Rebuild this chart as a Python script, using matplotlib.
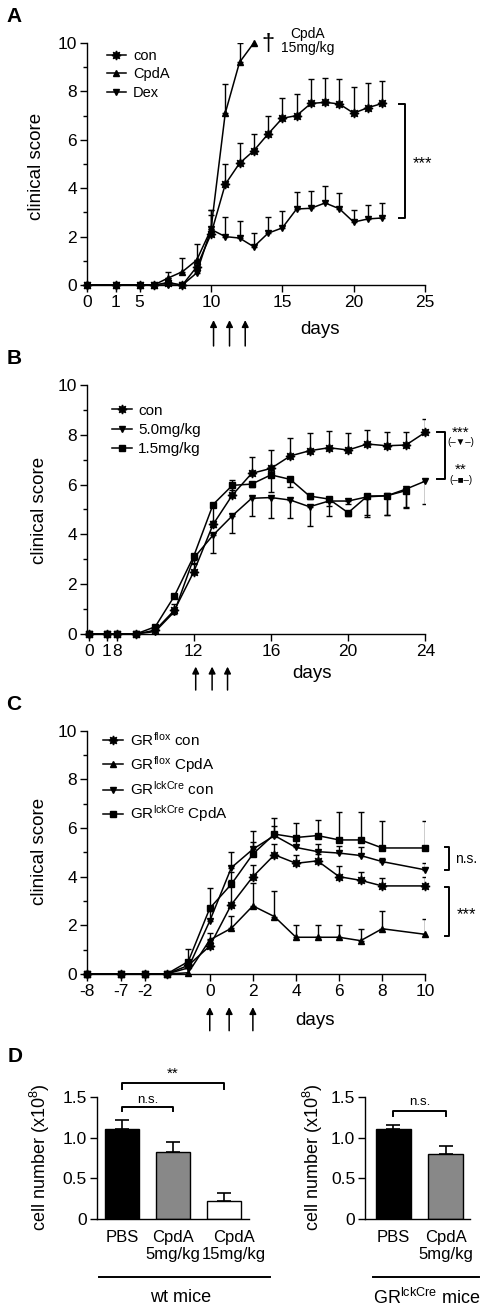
import numpy as np
import matplotlib
matplotlib.use('Agg')
import matplotlib.pyplot as plt
from matplotlib import transforms
from matplotlib.lines import Line2D
from matplotlib.ticker import NullLocator

plt.rcParams['font.family'] = ['Liberation Sans', 'DejaVu Sans']
plt.rcParams['mathtext.fontset'] = 'custom'
plt.rcParams['mathtext.rm'] = 'Liberation Sans'
plt.rcParams['mathtext.it'] = 'Liberation Sans:italic'
plt.rcParams['mathtext.bf'] = 'Liberation Sans:bold'

# ---------------- Panel A data ----------------
a_days = [0, 1, 5, 6, 7, 8, 9, 10, 11, 12, 13, 14, 15, 16, 17, 18, 19, 20, 21, 22]
a_con = [0, 0, 0, 0, 0.1, 0, 0.75, 2.1, 4.16, 5.03, 5.55, 6.24, 6.89, 7.0, 7.5, 7.55, 7.48, 7.1, 7.33, 7.5]
a_con_err = [0, 0, 0, 0, 0.2, 0, 0.3, 1.0, 0.84, 0.82, 0.69, 0.74, 0.85, 0.9, 1.0, 1.02, 1.02, 1.1, 1.0, 0.93]
a_cpda_days = [0, 1, 5, 6, 7, 8, 9, 10, 11, 12, 13]
a_cpda = [0, 0, 0, 0, 0.29, 0.55, 1.03, 2.3, 7.1, 9.2, 10.0]
a_cpda_err = [0, 0, 0, 0, 0.26, 0.55, 0.67, 0.8, 1.2, 0.8, 0]
a_dex = [0, 0, 0, 0, 0, 0, 0.5, 2.3, 2.0, 1.94, 1.58, 2.14, 2.36, 3.14, 3.17, 3.39, 3.15, 2.6, 2.73, 2.77]
a_dex_err = [0, 0, 0, 0, 0, 0, 0.2, 0.6, 0.8, 0.71, 0.58, 0.68, 0.71, 0.7, 0.71, 0.71, 0.66, 0.5, 0.59, 0.61]
a_xticks = [0, 1, 5, 10, 15, 20, 25]
a_arrows = [10.18, 11.3, 12.4]

# ---------------- Panel B data ----------------
b_days = [0, 1, 8, 9, 10, 11, 12, 13, 14, 15, 16, 17, 18, 19, 20, 21, 22, 23, 24]
b_con = [0, 0, 0, 0, 0.15, 0.96, 2.5, 4.4, 5.58, 6.45, 6.65, 7.15, 7.36, 7.48, 7.39, 7.63, 7.56, 7.59, 8.1]
b_con_err = [0, 0, 0, 0, 0.05, 0.25, 0.3, 0.15, 0.6, 0.67, 0.74, 0.71, 0.73, 0.67, 0.67, 0.56, 0.57, 0.54, 0.53]
b_50 = [0, 0, 0, 0, 0.1, 0.9, 3.05, 3.97, 4.75, 5.45, 5.48, 5.38, 5.11, 5.34, 5.34, 5.51, 5.55, 5.82, 6.14]
b_50_err = [0, 0, 0, 0, 0, 0.1, 0.2, 0.71, 0.7, 0.71, 0.84, 0.72, 0.76, 0.2, 0.1, 0.73, 0.76, 0.75, 0.93]
b_15_days = [0, 1, 8, 9, 10, 11, 12, 13, 14, 15, 16, 17, 18, 19, 20, 21, 22, 23]
b_15 = [0, 0, 0, 0, 0.29, 1.53, 3.13, 5.2, 5.97, 6.02, 6.39, 6.21, 5.54, 5.42, 4.87, 5.54, 5.55, 5.76]
b_15_err = [0, 0, 0, 0, 0, 0.1, 0.15, 0.9, 0.2, 0.1, 0.68, 0.32, 0.1, 0.7, 0.15, 0.83, 0.76, 0.65]
b_xticks = [0, 1, 8, 12, 16, 20, 24]
b_arrows = [12.1, 12.95, 13.75]

# ---------------- Panel C data ----------------
c_days = [-8, -7, -3, -2, -1, 0, 1, 2, 3, 4, 5, 6, 7, 8, 10]
c_flox_con = [0, 0, 0, 0, 0.35, 1.15, 2.85, 4.0, 4.9, 4.55, 4.65, 4.0, 3.85, 3.62, 3.62]
c_flox_con_err = [0, 0, 0, 0, 0.1, 0.3, 1.0, 0.5, 0.45, 0.35, 0.3, 0.42, 0.34, 0.31, 0.37]
c_flox_cpda = [0, 0, 0, 0, 0.05, 1.4, 1.88, 2.8, 2.36, 1.51, 1.51, 1.51, 1.37, 1.86, 1.63]
c_flox_cpda_err = [0, 0, 0, 0, 0, 0.3, 0.5, 0.96, 1.06, 0.51, 0.51, 0.51, 0.49, 0.72, 0.62]
c_lck_con = [0, 0, 0, 0, 0.25, 2.18, 4.37, 5.13, 5.69, 5.2, 5.03, 4.97, 4.87, 4.62, 4.28]
c_lck_con_err = [0, 0, 0, 0, 0.1, 0.4, 0.63, 0.73, 0.4, 0.39, 0.3, 0.3, 0.37, 0.15, 0.3]
c_lck_cpda = [0, 0, 0, 0, 0.51, 2.7, 3.69, 4.93, 5.75, 5.61, 5.69, 5.51, 5.51, 5.18, 5.18]
c_lck_cpda_err = [0, 0, 0, 0, 0.51, 0.85, 0.5, 0.5, 0.68, 0.59, 0.65, 1.13, 1.16, 1.12, 1.12]
c_xticks = [-8, -7, -3, 0, 2, 4, 6, 8, 10]
c_xticklabels = ['-8', '-7', '-2', '0', '2', '4', '6', '8', '10']
c_arrows = [0, 0.9, 2]

# ---------------- Panel D data ----------------
d_wt_labels = ['PBS', 'CpdA\n5mg/kg', 'CpdA\n15mg/kg']
d_wt_vals = [1.10, 0.82, 0.23]
d_wt_err = [0.11, 0.13, 0.09]
d_wt_colors = ['#000000', '#888888', '#ffffff']
d_lck_labels = ['PBS', 'CpdA\n5mg/kg']
d_lck_vals = [1.11, 0.80]
d_lck_err = [0.04, 0.10]
d_lck_colors = ['#000000', '#888888']

W, H = 494, 1312
fig = plt.figure(figsize=(W / 100, H / 100), dpi=100)


def axrect(l, t, r, b):
    return [l / W, 1 - b / H, (r - l) / W, (b - t) / H]


def fpx(x, y):
    return x / W, 1 - y / H


def piecewise(days_k, units_k):
    d = np.r_[days_k[0] - 1000, days_k, days_k[-1] + 1000]
    u = np.r_[units_k[0] - 1000, units_k, units_k[-1] + 1000]
    return (lambda x: np.interp(x, d, u)), (lambda v: np.interp(v, u, d))


def style_score(ax, xlim, xticks, xticklabels):
    ax.set_xlim(xlim)
    ax.set_ylim(0, 10)
    ax.set_yticks(range(0, 11, 2))
    ax.set_yticks(range(1, 10, 2), minor=True)
    ax.set_xticks(xticks)
    ax.set_xticklabels(xticklabels)
    ax.xaxis.set_minor_locator(NullLocator())
    for s in ['top', 'right']:
        ax.spines[s].set_visible(False)
    for s in ['left', 'bottom']:
        ax.spines[s].set_linewidth(1.0)
    ax.tick_params(which='major', length=5, width=1, labelsize=12.5, pad=2)
    ax.tick_params(which='minor', length=3, width=1)
    ax.tick_params(axis='x', which='minor', length=0)


def series(ax, x, y, err, marker, label, direction='up', ms=5):
    x = np.asarray(x, float)
    y = np.asarray(y, float)
    err = np.asarray(err, float)
    ax.plot(x, y, '-', color='k', lw=1.1, marker=marker, ms=ms, mfc='k', mec='k',
            label=label, clip_on=False, zorder=3)
    m = err > 0
    z = np.zeros(m.sum())
    yerr = [z, err[m]] if direction == 'up' else [err[m], z]
    ax.errorbar(x[m], y[m], yerr=yerr, fmt='none', ecolor='k', elinewidth=1,
                capsize=2.5, capthick=1, zorder=2)


def arrows(ax, xs, y_head, y_tail):
    tr = transforms.blended_transform_factory(ax.transData, ax.transAxes)
    for xv in xs:
        ax.annotate('', xy=(xv, y_head), xytext=(xv, y_tail), xycoords=tr, textcoords=tr,
                    arrowprops=dict(arrowstyle='-|>', color='k', lw=1.1, mutation_scale=10,
                                    shrinkA=0, shrinkB=0), annotation_clip=False)


def vbracket(ax, x0, x1, y0, y1):
    # vertical bracket opening to the left
    ax.plot([x0, x1, x1, x0], [y1, y1, y0, y0], color='k', lw=1.4, clip_on=False)


def hbracket(ax, x0, x1, ylow, ytop):
    # horizontal bracket opening downward
    ax.plot([x0, x0, x1, x1], [ylow, ytop, ytop, ylow], color='k', lw=1.4, clip_on=False)


star = (8, 1, 0)

# ================= Panel A =================
axA = fig.add_axes(axrect(86.7, 43, 425, 285))
axA.set_xscale('function', functions=piecewise([0, 1, 5, 25], [1.29, 3.32, 5, 25]))
series(axA, a_days, a_con, a_con_err, star, 'con', ms=6.5)
series(axA, a_cpda_days, a_cpda, a_cpda_err, '^', 'CpdA', ms=5)
series(axA, a_days, a_dex, a_dex_err, 'v', 'Dex', ms=5)
style_score(axA, (0, 25), a_xticks, [str(t) for t in a_xticks])
axA.legend(loc='upper left', bbox_to_anchor=(0.06, 0.975), frameon=False, fontsize=10.5,
           handlelength=1.3, handletextpad=0.5, labelspacing=0.3, borderpad=0, borderaxespad=0)
vbracket(axA, 23.2, 23.6, 2.76, 7.48)
axA.text(24.8, 5.0, '***', fontsize=12, ha='center', va='center')
axA.text(14.0, 9.95, '\u2020', fontsize=17, ha='center', va='center')
axA.text(16.8, 10.1, 'CpdA\n15mg/kg', fontsize=10, ha='center', va='center', linespacing=1.0)
arrows(axA, a_arrows, -0.145, -0.252)
axA.text(0.69, -0.182, 'days', transform=axA.transAxes, fontsize=13.5, ha='center', va='center')
axA.text(-0.147, 0.49, 'clinical score', transform=axA.transAxes, fontsize=13.5,
         rotation=90, ha='center', va='center')

# ================= Panel B =================
axB = fig.add_axes(axrect(86.7, 385, 425.3, 634))
axB.set_xscale('function', functions=piecewise([0, 1, 8, 24], [6.58, 7.5, 8, 24]))
series(axB, b_days, b_con, b_con_err, star, 'con', ms=6.5)
series(axB, b_days, b_50, b_50_err, 'v', '5.0mg/kg', direction='down', ms=5)
series(axB, b_15_days, b_15, b_15_err, 's', '1.5mg/kg', direction='down', ms=5)
style_score(axB, (-0.13, 24), b_xticks, [str(t) for t in b_xticks])
axB.legend(loc='upper left', bbox_to_anchor=(0.075, 0.925), frameon=False, fontsize=11,
           handlelength=1.3, handletextpad=0.4, labelspacing=0.35, borderpad=0, borderaxespad=0)
vbracket(axB, 24.62, 25.02, 6.22, 8.1)
axB.text(25.84, 8.1, '***', fontsize=11, ha='center', va='center')
axB.text(25.84, 7.7, '(\u2013\u25bc\u2013)', fontsize=7, ha='center', va='center')
axB.text(25.84, 6.6, '**', fontsize=11, ha='center', va='center')
axB.text(25.84, 6.2, '(\u2013\u25a0\u2013)', fontsize=7, ha='center', va='center')
arrows(axB, b_arrows, -0.131, -0.225)
axB.text(0.665, -0.16, 'days', transform=axB.transAxes, fontsize=13.5, ha='center', va='center')
axB.text(-0.138, 0.498, 'clinical score', transform=axB.transAxes, fontsize=13.5,
         rotation=90, ha='center', va='center')

# ================= Panel C =================
axC = fig.add_axes(axrect(86.7, 730.7, 425.3, 974))
axC.set_xscale('function', functions=piecewise([-8, -7, -3, 10], [-5.71, -4.13, -3, 10]))
series(axC, c_days, c_flox_con, c_flox_con_err, star, r'GR$^{\mathrm{flox}}$ con', ms=6.5)
series(axC, c_days, c_flox_cpda, c_flox_cpda_err, '^', r'GR$^{\mathrm{flox}}$ CpdA', ms=5)
series(axC, c_days, c_lck_con, c_lck_con_err, 'v', r'GR$^{\mathrm{lckCre}}$ con', ms=5)
series(axC, c_days, c_lck_cpda, c_lck_cpda_err, 's', r'GR$^{\mathrm{lckCre}}$ CpdA', ms=5)
style_score(axC, (-8, 10), c_xticks, c_xticklabels)
axC.legend(loc='upper left', bbox_to_anchor=(0.048, 1.0), frameon=False, fontsize=11,
           handlelength=1.3, handletextpad=0.5, labelspacing=0.35, borderpad=0, borderaxespad=0)
vbracket(axC, 10.92, 11.12, 4.28, 5.2)
axC.text(11.9, 4.74, 'n.s.', fontsize=10, ha='center', va='center')
vbracket(axC, 10.92, 11.12, 1.58, 3.59)
axC.text(11.9, 2.45, '***', fontsize=12, ha='center', va='center')
arrows(axC, c_arrows, -0.136, -0.233)
axC.text(0.674, -0.19, 'days', transform=axC.transAxes, fontsize=13.5, ha='center', va='center')
axC.text(-0.138, 0.503, 'clinical score', transform=axC.transAxes, fontsize=13.5,
         rotation=90, ha='center', va='center')


# ================= Panel D =================
def style_bar(ax, labels, xlim, label_shift_px):
    ax.set_xlim(xlim)
    ax.set_ylim(0, 1.5)
    ax.set_yticks([0, 0.5, 1.0, 1.5])
    ax.set_yticklabels(['0', '0.5', '1.0', '1.5'])
    ax.set_xticks(range(len(labels)))
    ax.set_xticklabels([])
    for s in ['top', 'right']:
        ax.spines[s].set_visible(False)
    for s in ['left', 'bottom']:
        ax.spines[s].set_linewidth(1.0)
    ax.tick_params(axis='y', length=5, width=1, labelsize=12.5, pad=2)
    ax.tick_params(axis='x', length=0)
    base = transforms.blended_transform_factory(ax.transData, ax.transAxes)
    for i, (lab, dx) in enumerate(zip(labels, label_shift_px)):
        tr = base + transforms.ScaledTranslation(dx / 100, 0, fig.dpi_scale_trans)
        ax.text(i, -0.085, lab, transform=tr, fontsize=12, ha='center', va='top',
                linespacing=1.15)


axD1 = fig.add_axes(axrect(96.7, 1096.7, 249.3, 1219.3))
axD1.bar(range(len(d_wt_vals)), d_wt_vals, width=0.67, color=d_wt_colors, edgecolor='k', linewidth=1,
         yerr=[np.zeros(len(d_wt_err)), d_wt_err],
         error_kw=dict(elinewidth=1.2, capsize=5, capthick=1.2, ecolor='k'), zorder=2)
style_bar(axD1, d_wt_labels, (-0.5, 2.5), [0, 0, 10])
hbracket(axD1, 0, 2, 1.60, 1.67)
axD1.text(1, 1.78, '**', fontsize=11, ha='center', va='center')
hbracket(axD1, 0, 1, 1.32, 1.38)
axD1.text(0.5, 1.46, 'n.s.', fontsize=9.5, ha='center', va='center')

axD2 = fig.add_axes(axrect(365, 1096.7, 470, 1219.3))
axD2.bar(range(len(d_lck_vals)), d_lck_vals, width=0.67, color=d_lck_colors, edgecolor='k', linewidth=1,
         yerr=[np.zeros(len(d_lck_err)), d_lck_err],
         error_kw=dict(elinewidth=1.2, capsize=5, capthick=1.2, ecolor='k'), zorder=2)
style_bar(axD2, d_lck_labels, (-0.54, 1.46), [0, 0])
hbracket(axD2, 0, 1, 1.26, 1.325)
axD2.text(0.5, 1.43, 'n.s.', fontsize=9.5, ha='center', va='center')

fig.text(*fpx(40, 1157), 'cell number (x10$^{8}$)', fontsize=13, rotation=90, ha='center', va='center')
fig.text(*fpx(313.3, 1157), 'cell number (x10$^{8}$)', fontsize=13, rotation=90, ha='center', va='center')

fig.add_artist(Line2D([99 / W, 270 / W], [1 - 1276.7 / H] * 2, color='k', lw=1.4))
fig.add_artist(Line2D([372.7 / W, 479 / W], [1 - 1276.7 / H] * 2, color='k', lw=1.4))
fig.text(*fpx(180.5, 1298), 'wt mice', fontsize=13, ha='center', va='center')
fig.text(*fpx(426.7, 1298), r'GR$^{\mathrm{lckCre}}$ mice', fontsize=13, ha='center', va='center')

# panel letters
for letter, (x, y) in zip('ABCD', [(14, 17), (14, 358), (14, 705), (15, 1056)]):
    fig.text(*fpx(x, y), letter, fontsize=15, fontweight='bold', ha='center', va='center')

fig.savefig('out.png', dpi=100)
